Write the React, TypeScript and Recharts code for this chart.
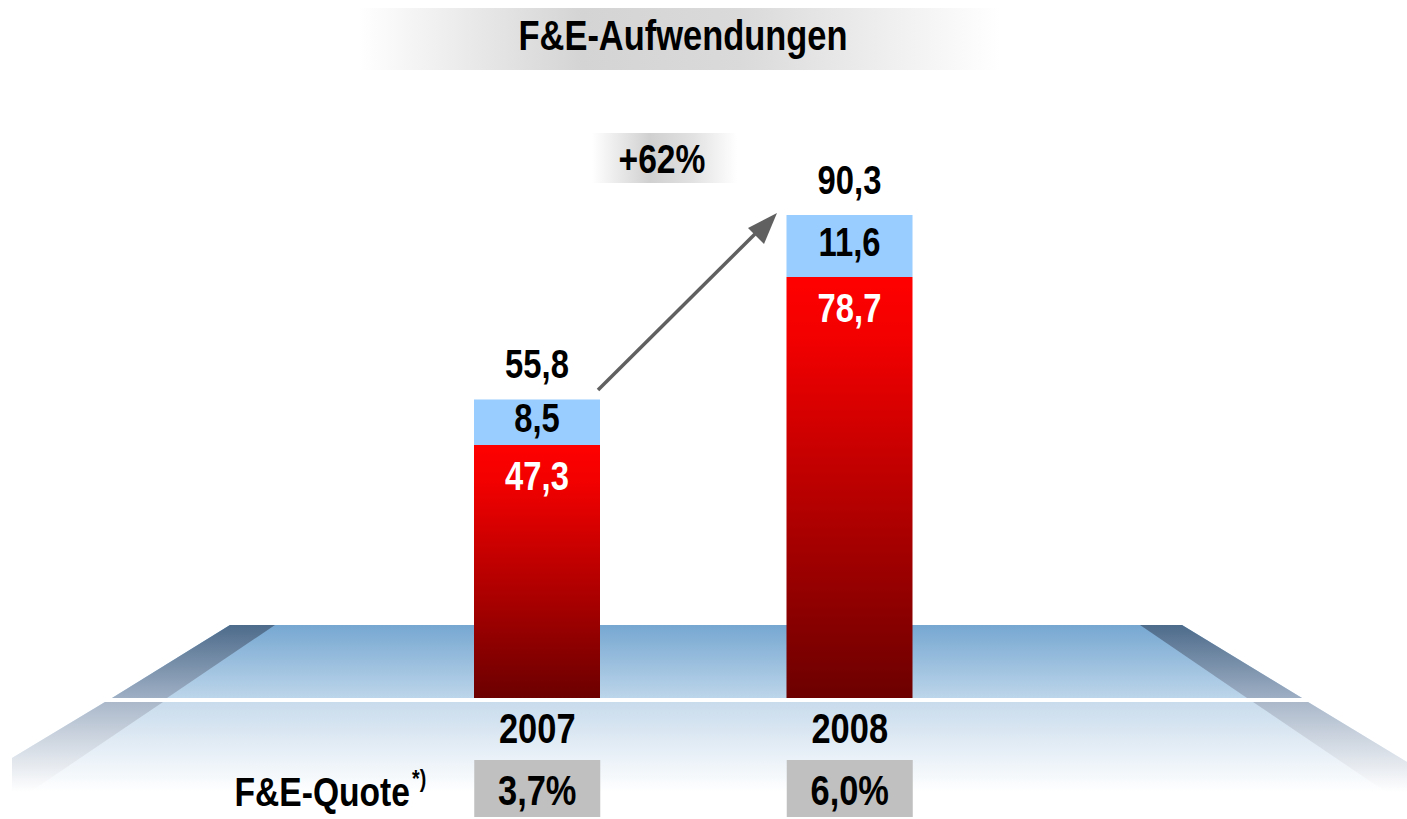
import React from "react";
import { BarChart, Bar, XAxis, YAxis, LabelList } from "recharts";

const years = ["2007", "2008"];
const aufwandRot = [47.3, 78.7];
const aufwandBlau = [8.5, 11.6];
const aufwandGesamt = [55.8, 90.3];
const quote = ["3,7%", "6,0%"];
const wachstum = "+62%";

const data = years.map((year, i) => ({
  year,
  rot: aufwandRot[i],
  blau: aufwandBlau[i],
  total: aufwandGesamt[i],
  quote: quote[i],
}));

const FONT = "'Liberation Sans', Arial, sans-serif";
const fmt = (v: number) => v.toFixed(1).replace(".", ",");

// Arial Narrow look: regular bold squeezed horizontally
function NarrowText({
  x,
  y,
  size = 42,
  fill = "#000",
  anchor = "middle",
  children,
}: {
  x: number;
  y: number;
  size?: number;
  fill?: string;
  anchor?: "start" | "middle" | "end";
  children: React.ReactNode;
}) {
  return (
    <text
      transform={`translate(${x} ${y}) scale(0.82 1)`}
      textAnchor={anchor}
      fontFamily={FONT}
      fontWeight="bold"
      fontSize={size}
      fill={fill}
    >
      {children}
    </text>
  );
}

// eslint-disable-next-line @typescript-eslint/no-explicit-any
function YearTick({ x, y, payload }: any) {
  return (
    <NarrowText x={x} y={y + 45} size={42}>
      {payload.value}
    </NarrowText>
  );
}

// eslint-disable-next-line @typescript-eslint/no-explicit-any
function QuoteTick({ x, y, payload }: any) {
  return (
    <g>
      <rect x={x - 63} y={y + 7} width={126} height={57} fill="#c0c0c0" />
      <NarrowText x={x} y={y + 52} size={42}>
        {payload.value}
      </NarrowText>
    </g>
  );
}

// eslint-disable-next-line @typescript-eslint/no-explicit-any
const totalLabel = (p: any) => (
  <NarrowText x={p.x + p.width / 2} y={p.y - 21} size={40}>
    {fmt(aufwandGesamt[p.index])}
  </NarrowText>
);

// eslint-disable-next-line @typescript-eslint/no-explicit-any
const blauLabel = (p: any) => (
  <NarrowText x={p.x + p.width / 2} y={p.y + p.height / 2 + 10} size={40}>
    {fmt(p.value)}
  </NarrowText>
);

// eslint-disable-next-line @typescript-eslint/no-explicit-any
const rotLabel = (p: any) => (
  <NarrowText x={p.x + p.width / 2} y={p.y + 45} size={40} fill="#fff">
    {fmt(p.value)}
  </NarrowText>
);

function Backdrop() {
  return (
    <svg width={1407} height={819} style={{ position: "absolute", left: 0, top: 0 }}>
      <defs>
        <linearGradient id="titleGrad" x1="0" y1="0" x2="1" y2="0">
          <stop offset="0" stopColor="#ffffff" />
          <stop offset="0.35" stopColor="#d4d4d4" />
          <stop offset="0.6" stopColor="#dadada" />
          <stop offset="1" stopColor="#ffffff" />
        </linearGradient>
        <linearGradient id="pctGrad" x1="0" y1="0" x2="1" y2="0">
          <stop offset="0" stopColor="#ffffff" />
          <stop offset="0.4" stopColor="#d0d0d0" />
          <stop offset="0.7" stopColor="#e2e2e2" />
          <stop offset="1" stopColor="#ffffff" />
        </linearGradient>
        <linearGradient id="topGrad" x1="0" y1="0" x2="0" y2="1">
          <stop offset="0" stopColor="#76a7d1" />
          <stop offset="1" stopColor="#bcd5ea" />
        </linearGradient>
        <linearGradient id="sideGrad" x1="0" y1="0" x2="0" y2="1">
          <stop offset="0" stopColor="#4d6b8b" />
          <stop offset="1" stopColor="#9eafc4" />
        </linearGradient>
        <linearGradient id="frontGrad" x1="0" y1="0" x2="0" y2="1">
          <stop offset="0" stopColor="#c8dbec" />
          <stop offset="1" stopColor="#ffffff" />
        </linearGradient>
        <linearGradient id="frontSideGrad" x1="0" y1="0" x2="0" y2="1">
          <stop offset="0" stopColor="#aab8ca" />
          <stop offset="1" stopColor="#ffffff" />
        </linearGradient>
      </defs>

      <rect x={358} y={8} width={642} height={62} fill="url(#titleGrad)" />
      <NarrowText x={683} y={50} size={42}>
        F&amp;E-Aufwendungen
      </NarrowText>

      {/* platform, top face */}
      <polygon points="230,625 1182,625 1302,698 112,698" fill="url(#topGrad)" />
      <polygon points="230,625 275,625 167,698 112,698" fill="url(#sideGrad)" />
      <polygon points="1140,625 1182,625 1302,698 1247,698" fill="url(#sideGrad)" />
      {/* platform, front face */}
      <polygon points="105,702 1308,702 1407,762 1407,792 12,792 12,758" fill="url(#frontGrad)" />
      <polygon points="105,702 163,702 30,792 12,792 12,758" fill="url(#frontSideGrad)" />
      <polygon points="1253,702 1308,702 1407,762 1407,792 1386,792" fill="url(#frontSideGrad)" />

      <rect x={592} y={133} width={145} height={50} fill="url(#pctGrad)" />
      <NarrowText x={662} y={173} size={41}>
        {wachstum}
      </NarrowText>

      <line x1={598} y1={390} x2={760} y2={229} stroke="#606060" strokeWidth={3.5} />
      <polygon points="777,213 748,228 764,244" fill="#606060" />

      <NarrowText x={410} y={806} size={41} anchor="end">
        F&amp;E-Quote
      </NarrowText>
      <NarrowText x={412} y={787} size={24} anchor="start">
        *)
      </NarrowText>
    </svg>
  );
}

export default function App() {
  return (
    <div style={{ position: "absolute", left: 0, top: 0, width: 1407, height: 819, background: "#fff" }}>
      <Backdrop />
      <div style={{ position: "absolute", left: 0, top: 0 }}>
        <BarChart width={1407} height={819} data={data} margin={{ top: 163, right: 401, bottom: 0, left: 381 }}>
          <defs>
            <linearGradient id="redGrad" x1="0" y1="0" x2="0" y2="1">
              <stop offset="0" stopColor="#ff0000" />
              <stop offset="0.15" stopColor="#f20000" />
              <stop offset="1" stopColor="#6c0000" />
            </linearGradient>
          </defs>
          <XAxis dataKey="year" xAxisId="0" axisLine={false} tickLine={false} tickSize={0} tickMargin={0} height={55} tick={<YearTick />} interval={0} />
          <XAxis dataKey="quote" xAxisId="q" axisLine={false} tickLine={false} tickSize={0} tickMargin={0} height={66} tick={<QuoteTick />} interval={0} />
          <YAxis hide domain={[0, 100]} />
          <Bar dataKey="rot" stackId="a" xAxisId="0" fill="url(#redGrad)" barSize={126} isAnimationActive={false}>
            <LabelList dataKey="rot" content={rotLabel} />
          </Bar>
          <Bar dataKey="blau" stackId="a" xAxisId="0" fill="#99ccff" barSize={126} isAnimationActive={false}>
            <LabelList dataKey="blau" content={blauLabel} />
            <LabelList dataKey="total" content={totalLabel} />
          </Bar>
        </BarChart>
      </div>
    </div>
  );
}
